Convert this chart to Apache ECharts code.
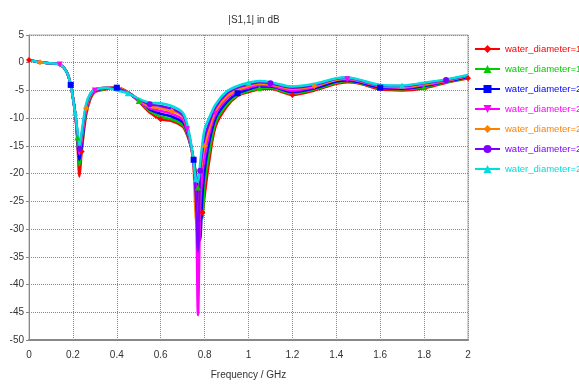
<!DOCTYPE html>
<html>
<head>
<meta charset="utf-8">
<script src="https://cdn.jsdelivr.net/npm/echarts@6/dist/echarts.min.js"></script>
<style>
  html, body { margin: 0; padding: 0; background: #fff; }
  #chart { width: 579px; height: 385px; }
</style>
</head>
<body>
<div id="chart"></div>
<script>
// frequency points (GHz)
var freq = [0, 0.05, 0.1, 0.14, 0.17, 0.19, 0.21, 0.22, 0.23, 0.24, 0.26, 0.28, 0.3, 0.35, 0.4, 0.45, 0.5, 0.55, 0.6, 0.65,
  0.7, 0.72, 0.74, 0.75, 0.76, 0.77, 0.78, 0.79, 0.8, 0.82, 0.85, 0.9, 0.95, 1.0, 1.05, 1.1, 1.2, 1.3, 1.4, 1.45,
  1.5, 1.6, 1.7, 1.8, 1.9, 2.0]

var start = [0.5, 0.1, -0.1, -0.3, -1.5, -4, -9]

// |S1,1| in dB
var d18 = start.concat([-14, -20.5, -16, -9.5, -6.5, -5.3, -4.8, -4.5, -5.3, -7, -9, -10.2, -10.5,
  -11.5, -13, -15.5, -17.5, -20, -23, -25.5, -27, -24, -18, -11.5, -8, -6, -5.3, -4.8, -4.7, -5.8, -5, -3.8, -3.5,
  -3.7, -4.8, -5, -4.6, -3.6, -2.8])
var d19 = start.concat([-13.5, -18.5, -15.5, -9, -6.3, -5.2, -4.7, -4.4, -5.3, -6.9, -8.7, -9.7, -10.2,
  -11.2, -12.7, -15.5, -17.5, -20, -22.5, -25.5, -28, -22, -16.5, -10.8, -7.6, -5.8, -5.1, -4.6, -4.5, -5.6, -4.8, -3.6, -3.3,
  -3.6, -4.6, -4.8, -4.4, -3.5, -2.7])
var d20 = start.concat([-13.2, -17.5, -15, -8.7, -6.1, -5.1, -4.6, -4.5, -5.3, -6.8, -8.4, -9.2, -9.7,
  -10.7, -12.4, -15.5, -17.5, -20.5, -24, -32, -24, -19.5, -14.5, -10, -7.1, -5.5, -4.8, -4.3, -4.3, -5.3, -4.6, -3.4, -3.2,
  -3.5, -4.5, -4.7, -4.2, -3.4, -2.6])
var d21 = start.concat([-13, -16.5, -14, -8.4, -6, -5, -4.6, -4.6, -5.4, -6.8, -8.2, -8.7, -9.2,
  -10.2, -12, -15.5, -18, -21.5, -45.5, -26, -20, -17, -13, -9.2, -6.5, -5.1, -4.5, -4, -4.1, -5, -4.4, -3, -3,
  -3.3, -4.3, -4.5, -4, -3.3, -2.3])
var d22 = start.concat([-12.7, -16, -13.5, -8.2, -5.8, -4.9, -4.5, -4.4, -5.3, -6.7, -7.9, -8.2, -8.7,
  -9.7, -11.7, -15.5, -19, -28, -30, -20.5, -17, -15, -12, -8.6, -6.1, -4.9, -4.2, -3.8, -3.9, -4.7, -4.2, -3.1, -2.8,
  -3.2, -4.2, -4.4, -3.9, -3.2, -2.4])
var d23 = start.concat([-12.3, -15.5, -13, -7.8, -5.6, -4.8, -4.5, -4.6, -5.4, -6.6, -7.5, -7.8, -8.3,
  -9.4, -11.4, -15.2, -18.5, -24, -34, -19.5, -16, -13.5, -11, -8, -5.6, -4.5, -3.9, -3.5, -3.7, -4.5, -4, -2.9, -2.7,
  -3.1, -4.1, -4.2, -3.7, -3.1, -2.3])
var d24 = start.concat([-12, -15, -12.5, -7.5, -5.5, -4.8, -4.5, -5, -5.5, -6.5, -7.2, -7.3, -7.8,
  -9, -11, -15, -18, -21, -21.5, -18, -14.5, -12, -10, -7.5, -5.2, -4.2, -3.6, -3.3, -3.5, -4.3, -3.8, -2.8, -2.6,
  -3, -4, -4.1, -3.6, -3, -2.2])

var names = ['water_diameter=18', 'water_diameter=19', 'water_diameter=20', 'water_diameter=21',
  'water_diameter=22', 'water_diameter=23', 'water_diameter=24']
var colors = ['#ff0000', '#00cc00', '#0000ff', '#ff00ff', '#ff8000', '#8000ff', '#00dddd']
var symbols = ['diamond', 'triangle', 'rect', 'path://M0,0L10,0L5,10Z', 'diamond', 'circle', 'triangle']
var allData = [d18, d19, d20, d21, d22, d23, d24]

var font = '"Liberation Sans", Arial, sans-serif'
var myChart = echarts.init(document.getElementById('chart'))

var series = allData.map(function (vals, k) {
  return {
    name: names[k],
    type: 'line',
    smooth: 0.3,
    symbol: symbols[k],
    // sparse markers like the original plot
    symbolSize: function (v, p) {
      return (p.dataIndex + k * 2) % 9 === 0 ? 6 : 0
    },
    showSymbol: true,
    lineStyle: { width: 2.5, color: colors[k] },
    itemStyle: { color: colors[k] },
    data: freq.map(function (f, i) { return [f, vals[i]] })
  }
})

var option = {
  animation: false,
  title: {
    text: '|S1,1| in dB',
    left: 249,
    top: 10,
    textAlign: 'center',
    textStyle: { fontSize: 10, fontWeight: 'normal', color: '#333', fontFamily: font }
  },
  legend: {
    orient: 'vertical',
    left: 474,
    top: 43,
    padding: 0,
    itemGap: 8,
    itemWidth: 25,
    itemHeight: 10,
    data: names.map(function (n, k) {
      return { name: n, textStyle: { color: colors[k] } }
    }),
    textStyle: { fontSize: 9.5, lineHeight: 12, fontFamily: font, width: 200, overflow: 'none' }
  },
  grid: {
    left: 29,
    right: 111,
    top: 35,
    bottom: 45,
    show: true,
    borderColor: '#aaa',
    borderWidth: 1
  },
  xAxis: {
    type: 'value',
    min: 0,
    max: 2,
    interval: 0.2,
    name: 'Frequency / GHz',
    nameLocation: 'middle',
    nameGap: 30,
    nameTextStyle: { fontSize: 10, color: '#333', fontFamily: font },
    axisLine: { onZero: false, lineStyle: { color: '#888', width: 2 } },
    axisTick: { show: false },
    axisLabel: { fontSize: 10, color: '#333', fontFamily: font, margin: 10 },
    splitLine: { lineStyle: { type: 'dotted', color: '#888', width: 1 } }
  },
  yAxis: {
    type: 'value',
    min: -50,
    max: 5,
    interval: 5,
    axisLine: { show: true, onZero: false, lineStyle: { color: '#888', width: 1 } },
    axisTick: { show: true, length: 3, lineStyle: { color: '#888' } },
    axisLabel: { fontSize: 10, color: '#333', fontFamily: font, margin: 5 },
    splitLine: { lineStyle: { type: 'dotted', color: '#888', width: 1 } }
  },
  series: series
}
myChart.setOption(option)
</script>
</body>
</html>
